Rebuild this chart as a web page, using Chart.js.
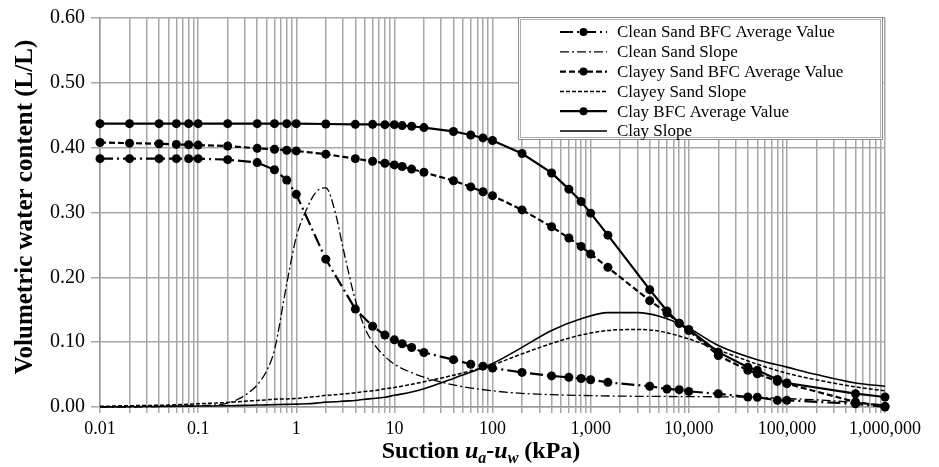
<!DOCTYPE html>
<html>
<head>
<meta charset="utf-8">
<script src="https://cdn.jsdelivr.net/npm/chart.js@4.4.1/dist/chart.umd.min.js"></script>
<style>
  html, body { margin: 0; padding: 0; background: #fff; }
  #wrap { width: 939px; height: 467px; }
</style>
</head>
<body>
<div id="wrap"><canvas id="swccChart" width="939" height="467"></canvas></div>
<script>
// suction values (kPa) where the BFC averages were plotted
const suctionBFC = [0.01, 0.02, 0.04, 0.06, 0.08, 0.1, 0.2, 0.4, 0.6, 0.8, 1, 2,
  4, 6, 8, 10, 12, 15, 20, 40, 60, 80, 100, 200, 400, 600, 800, 1000, 1500,
  4000, 6000, 8000, 10000, 20000, 40000, 50000, 80000, 100000, 500000, 1000000];

const cleanSandBFC = [0.383, 0.383, 0.383, 0.383, 0.383, 0.383, 0.3815, 0.377, 0.366, 0.350, 0.328, 0.228,
  0.151, 0.1246, 0.111, 0.1036, 0.0975, 0.0918, 0.084, 0.073, 0.066, 0.063, 0.060,
  0.0534, 0.048, 0.0457, 0.044, 0.042, 0.038, 0.032, 0.0277, 0.0267, 0.024,
  0.0205, 0.0154, 0.015, 0.0103, 0.0103, 0.005, 0.0];

const clayeySandBFC = [0.408, 0.407, 0.406, 0.405, 0.4045, 0.404, 0.4026, 0.399, 0.3975, 0.396, 0.395, 0.390,
  0.383, 0.379, 0.376, 0.3734, 0.371, 0.367, 0.362, 0.349, 0.3395, 0.332, 0.326,
  0.304, 0.278, 0.2606, 0.2477, 0.236, 0.2154, 0.164, 0.145, 0.129, 0.118,
  0.0795, 0.0565, 0.0513, 0.0395, 0.036, 0.0077, 0.001];

const clayBFC = [0.437, 0.437, 0.437, 0.437, 0.437, 0.437, 0.437, 0.437, 0.437, 0.437, 0.437, 0.4365,
  0.436, 0.436, 0.4355, 0.4355, 0.434, 0.433, 0.431, 0.425, 0.4195, 0.415, 0.411,
  0.391, 0.361, 0.336, 0.317, 0.299, 0.265, 0.181, 0.148, 0.129, 0.1195,
  0.0846, 0.0615, 0.0565, 0.0426, 0.037, 0.0205, 0.0154];

// suction values for the slope curves
const suctionSlope = [0.01, 0.02, 0.05, 0.1, 0.2, 0.3, 0.4, 0.5, 0.6, 0.8,
  1, 1.3, 1.6, 2, 2.5, 3, 4, 5, 6, 8, 10, 15, 20, 40, 100, 200, 400, 800,
  1500, 3000, 5000, 10000, 20000, 50000, 100000, 200000, 500000, 1000000];

const cleanSandSlope = [0.0, 0.0, 0.001, 0.002, 0.006, 0.018, 0.034, 0.056, 0.088, 0.19,
  0.262, 0.308, 0.332, 0.338, 0.300, 0.245, 0.165, 0.122, 0.100, 0.078, 0.066, 0.053, 0.046, 0.034, 0.025, 0.021, 0.019, 0.0178,
  0.017, 0.0165, 0.0163, 0.016, 0.0157, 0.015, 0.013, 0.011, 0.007, 0.003];

const clayeySandSlope = [0.001, 0.002, 0.003, 0.005, 0.007, 0.009, 0.010, 0.011, 0.012, 0.0125,
  0.013, 0.015, 0.016, 0.018, 0.019, 0.020, 0.022, 0.024, 0.025, 0.028, 0.030, 0.035, 0.039, 0.049, 0.065, 0.082, 0.098, 0.111,
  0.118, 0.1195, 0.117, 0.105, 0.088, 0.066, 0.052, 0.042, 0.031, 0.025];

const claySlope = [0.0, 0.0005, 0.001, 0.0015, 0.002, 0.0025, 0.003, 0.0033, 0.0036, 0.004,
  0.0045, 0.005, 0.006, 0.0075, 0.008, 0.009, 0.010, 0.012, 0.013, 0.015, 0.018, 0.023, 0.028, 0.044, 0.067, 0.092, 0.118, 0.136,
  0.1455, 0.1455, 0.140, 0.1215, 0.095, 0.073, 0.0615, 0.050, 0.037, 0.032];

// axis tick labels
const xTickValues = [0.01, 0.1, 1, 10, 100, 1000, 10000, 100000, 1000000];
const xTickLabels = ['0.01', '0.1', '1', '10', '100', '1,000', '10,000', '100,000', '1,000,000'];
const yTickLabels = ['0.00', '0.10', '0.20', '0.30', '0.40', '0.50', '0.60'];

const serif = "'Liberation Serif', 'Times New Roman', serif";
const gridColor = '#a8a8a8';

function toPoints(xs, ys) {
  return xs.map((x, i) => ({ x: x, y: ys[i] }));
}

function bfcSet(label, ys, dash) {
  return {
    label: label,
    data: toPoints(suctionBFC, ys),
    showLine: true,
    borderColor: '#000',
    backgroundColor: '#000',
    borderWidth: 2.2,
    borderDash: dash,
    pointRadius: 4.5,
    pointBorderWidth: 0,
    tension: 0,
    clip: 8
  };
}

function slopeSet(label, ys, dash, width) {
  return {
    label: label,
    data: toPoints(suctionSlope, ys),
    showLine: true,
    borderColor: '#000',
    backgroundColor: '#000',
    borderWidth: width,
    borderDash: dash,
    pointRadius: 0,
    cubicInterpolationMode: 'monotone',
    clip: 4
  };
}

// titles + boxed legend drawn on top
const titlesAndLegend = {
  id: 'titlesAndLegend',
  afterDraw(chart) {
    const ctx = chart.ctx;
    ctx.save();
    ctx.fillStyle = '#000';

    // y axis title
    ctx.save();
    ctx.translate(26, 207);
    ctx.rotate(-Math.PI / 2);
    ctx.font = 'bold 25px ' + serif;
    ctx.textAlign = 'center';
    ctx.textBaseline = 'middle';
    ctx.fillText('Volumetric water content (L/L)', 0, 0);
    ctx.restore();

    // x axis title with subscripts
    const parts = [
      { t: 'Suction ', f: 'bold 24px ' + serif, dy: 0 },
      { t: 'u', f: 'italic bold 24px ' + serif, dy: 0 },
      { t: 'a', f: 'italic bold 16px ' + serif, dy: 5 },
      { t: '-', f: 'bold 24px ' + serif, dy: 0 },
      { t: 'u', f: 'italic bold 24px ' + serif, dy: 0 },
      { t: 'w', f: 'italic bold 16px ' + serif, dy: 5 },
      { t: ' (kPa)', f: 'bold 24px ' + serif, dy: 0 }
    ];
    let total = 0;
    parts.forEach(p => { ctx.font = p.f; p.w = ctx.measureText(p.t).width; total += p.w; });
    let x = 481 - total / 2;
    ctx.textBaseline = 'alphabetic';
    ctx.textAlign = 'left';
    parts.forEach(p => { ctx.font = p.f; ctx.fillText(p.t, x, 458 + p.dy); x += p.w; });

    // legend box
    const box = { l: 518, t: 17, r: 883, b: 140 };
    ctx.fillStyle = '#fff';
    ctx.fillRect(box.l, box.t, box.r - box.l, box.b - box.t);
    ctx.strokeStyle = '#8c8c8c';
    ctx.lineWidth = 1;
    ctx.strokeRect(box.l + 0.5, box.t + 0.5, box.r - box.l - 1, box.b - box.t - 1);
    ctx.strokeStyle = '#b0b0b0';
    ctx.strokeRect(box.l + 2.5, box.t + 2.5, box.r - box.l - 5, box.b - box.t - 5);

    ctx.font = '17px ' + serif;
    ctx.textBaseline = 'middle';
    chart.data.datasets.forEach((ds, i) => {
      const y = 32 + i * 19.8;
      ctx.strokeStyle = '#000';
      ctx.lineWidth = ds.borderWidth;
      ctx.setLineDash(ds.borderDash || []);
      ctx.beginPath();
      ctx.moveTo(560, y);
      ctx.lineTo(607, y);
      ctx.stroke();
      ctx.setLineDash([]);
      if (ds.pointRadius > 0) {
        ctx.fillStyle = '#000';
        ctx.beginPath();
        ctx.arc(583.5, y, 4, 0, Math.PI * 2);
        ctx.fill();
      }
      ctx.fillStyle = '#000';
      ctx.fillText(ds.label, 617, y + 1);
    });
    ctx.restore();
  }
};

const ctx = document.getElementById('swccChart').getContext('2d');
const swccChart = new Chart(ctx, {
  type: 'scatter',
  data: {
    datasets: [
      bfcSet('Clean Sand BFC Average Value', cleanSandBFC, [13, 4, 2, 4]),
      slopeSet('Clean Sand Slope', cleanSandSlope, [9, 3, 2, 3], 1.3),
      bfcSet('Clayey Sand BFC Average Value', clayeySandBFC, [6, 3]),
      slopeSet('Clayey Sand Slope', clayeySandSlope, [4, 2], 1.5),
      bfcSet('Clay BFC Average Value', clayBFC, []),
      slopeSet('Clay Slope', claySlope, [], 1.6)
    ]
  },
  options: {
    responsive: false,
    animation: false,
    devicePixelRatio: 1,
    layout: { padding: { top: 17, right: 54, left: 0, bottom: 0 } },
    plugins: {
      legend: { display: false },
      tooltip: { enabled: false }
    },
    scales: {
      x: {
        type: 'logarithmic',
        min: 0.01,
        max: 1000000,
        afterBuildTicks: (scale) => {
          const ticks = [];
          for (let e = -2; e < 6; e++) {
            for (let m = 1; m < 10; m++) ticks.push({ value: +(m * Math.pow(10, e)).toPrecision(6) });
          }
          ticks.push({ value: 1000000 });
          scale.ticks = ticks;
        },
        afterFit: (scale) => { scale.height = 60; },
        grid: { color: gridColor, lineWidth: 1.5, tickLength: 6 },
        border: { color: '#999', width: 1.5 },
        ticks: {
          autoSkip: false,
          maxRotation: 0,
          padding: 5,
          color: '#000',
          font: { family: serif, size: 18 },
          callback: (value) => {
            const i = xTickValues.findIndex(v => Math.abs(Math.log10(v) - Math.log10(value)) < 1e-6);
            return i >= 0 ? xTickLabels[i] : '';
          }
        }
      },
      y: {
        min: 0,
        max: 0.6,
        afterFit: (scale) => { scale.width = 100; },
        grid: { color: gridColor, lineWidth: 1.5, tickLength: 9 },
        border: { color: '#999', width: 1.5 },
        ticks: {
          stepSize: 0.1,
          padding: 6,
          color: '#000',
          font: { family: serif, size: 20 },
          callback: (value) => yTickLabels[Math.round(value * 10)]
        }
      }
    }
  },
  plugins: [titlesAndLegend]
});
</script>
</body>
</html>
